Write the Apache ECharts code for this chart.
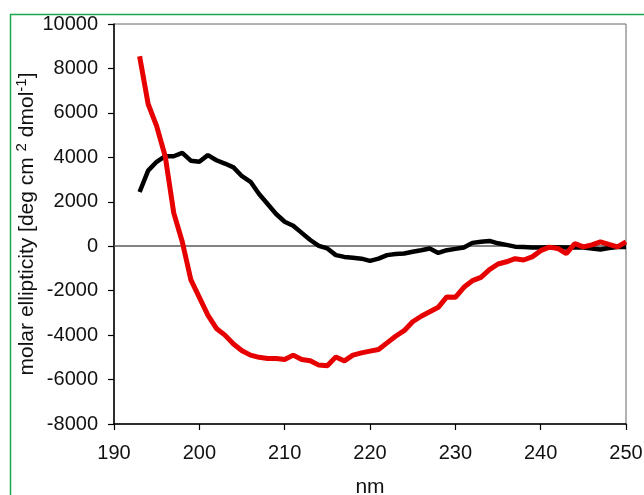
<!DOCTYPE html>
<html>
<head>
<meta charset="utf-8">
<script src="https://cdn.jsdelivr.net/npm/echarts@6/dist/echarts.min.js"></script>
<style>html,body{margin:0;padding:0;background:#fff;}#c{width:644px;height:495px;}</style>
</head>
<body>
<div id="c"></div>
<script>
var wavelengths = [193,194,195,196,197,198,199,200,201,202,203,204,205,206,207,208,209,210,211,212,213,214,215,216,217,218,219,220,221,222,223,224,225,226,227,228,229,230,231,232,233,234,235,236,237,238,239,240,241,242,243,244,245,246,247,248,249,250];
var blackValues = [2440,3400,3800,4050,4050,4200,3850,3800,4100,3870,3720,3550,3150,2900,2350,1900,1450,1100,920,600,280,20,-100,-400,-480,-520,-560,-660,-560,-400,-350,-330,-250,-180,-100,-300,-180,-120,-60,150,200,240,130,60,-20,-40,-60,-60,-50,-50,-60,-60,-60,-100,-150,-80,-40,-30];
var redValues = [8550,6400,5400,4050,1500,200,-1500,-2300,-3100,-3700,-4000,-4400,-4700,-4900,-5000,-5050,-5050,-5100,-4900,-5100,-5150,-5350,-5380,-4980,-5160,-4900,-4800,-4720,-4650,-4350,-4050,-3800,-3400,-3150,-2950,-2750,-2280,-2300,-1850,-1550,-1400,-1050,-800,-700,-560,-620,-480,-200,-40,-100,-330,120,-30,60,195,80,-30,195];
var xTicks = [190,200,210,220,230,240,250];
var yTicks = [-8000,-6000,-4000,-2000,0,2000,4000,6000,8000,10000];

function pairs(xs, ys){ return xs.map(function(x,i){ return [x, ys[i]]; }); }

var chart = echarts.init(document.getElementById('c'), null, {renderer:'canvas'});
var font = 'Liberation Sans, Arial, sans-serif';
chart.setOption({
  animation: false,
  backgroundColor: '#fff',
  graphic: [{
    type: 'rect', left: 8, top: 12, shape: {width: 700, height: 600},
    style: {fill: 'none', stroke: '#1aa64a', lineWidth: 1.5}, silent: true, z: -1
  }],
  grid: {left: 114, top: 24, right: 18, bottom: 71, show: true, borderColor: '#666', borderWidth: 1, backgroundColor: '#fff', containLabel: false, outerBoundsMode: 'none'},
  xAxis: {
    type: 'value', min: xTicks[0], max: xTicks[xTicks.length-1], interval: 10,
    name: 'nm', nameLocation: 'middle', nameGap: 53, nameMoveOverlap: false,
    nameTextStyle: {fontFamily: font, fontSize: 21, color: '#111'},
    axisLine: {show: true, onZero: false, lineStyle: {color: '#000', width: 1.5}},
    axisTick: {show: true, inside: false, length: 6, lineStyle: {color: '#000', width: 1.2}},
    axisLabel: {fontFamily: font, fontSize: 20, color: '#111', margin: 19, formatter: function(v){ return String(v); }},
    splitLine: {show: false}
  },
  yAxis: {
    type: 'value', min: yTicks[0], max: yTicks[yTicks.length-1], interval: 2000,
    name: 'molar ellipticity [deg cm {sup|2} dmol{sup|-1}]',
    nameLocation: 'middle', nameGap: 74, nameRotate: 90, nameMoveOverlap: false,
    nameTextStyle: {fontFamily: font, fontSize: 21, color: '#111', lineHeight: 26,
      rich: {sup: {fontFamily: font, fontSize: 15, color: '#111', verticalAlign: 'top', lineHeight: 15, padding: [0,0,10,0]}}},
    axisLine: {show: true, lineStyle: {color: '#000', width: 1.5}},
    axisTick: {show: true, inside: false, length: 6, lineStyle: {color: '#000', width: 1.2}},
    axisLabel: {fontFamily: font, fontSize: 20, color: '#111', margin: 16, formatter: function(v){ return String(v); }},
    splitLine: {show: false}
  },
  series: [{
    type: 'line', data: pairs(wavelengths, blackValues), symbol: 'none', smooth: false,
    lineStyle: {color: '#000', width: 4.5}, z: 3,
    markLine: {silent: true, symbol: 'none', label: {show: false},
      lineStyle: {color: '#5a5a5a', width: 1.5, type: 'solid'}, data: [{yAxis: 0}], z: 1}
  }, {
    type: 'line', data: pairs(wavelengths, redValues), symbol: 'none', smooth: false,
    lineStyle: {color: '#e60000', width: 5}, z: 4
  }]
});
</script>
</body>
</html>
